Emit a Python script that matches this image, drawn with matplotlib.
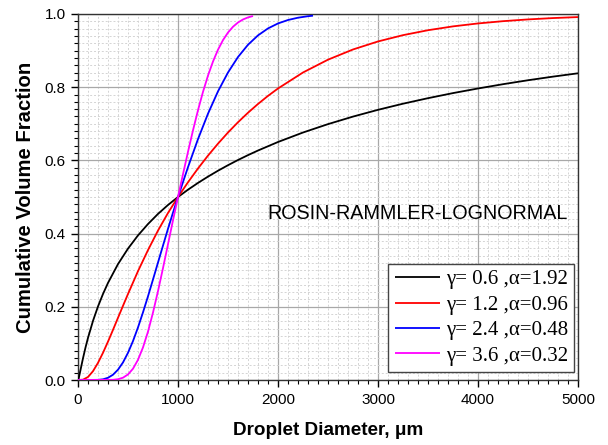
import matplotlib
matplotlib.use("Agg")
import matplotlib.pyplot as plt
from matplotlib.ticker import MultipleLocator

# values (diameter in um, cumulative volume fraction)
d_black = [0, 5, 10, 25, 50, 75, 100, 150, 200, 250, 300, 400, 500, 600, 700, 800, 900,
           1000, 1100, 1200, 1300, 1400, 1500, 1600, 1700, 1800, 2000, 2250, 2500, 2750,
           3000, 3250, 3500, 3750, 4000, 4250, 4500, 4750, 5000]
q_black = [0.0, 0.0029, 0.0082, 0.0274, 0.0594, 0.0887, 0.1152, 0.1616, 0.2010, 0.2351,
           0.2653, 0.3167, 0.3590, 0.3951, 0.4262, 0.4538, 0.4782,
           0.5, 0.5200, 0.5385, 0.5557, 0.5718, 0.5869, 0.6011, 0.6144, 0.6270, 0.6503,
           0.6762, 0.6991, 0.7197, 0.7382, 0.7549, 0.7700, 0.7839, 0.7965, 0.8082,
           0.8190, 0.8289, 0.8380]

d_red = [0, 50, 100, 150, 200, 250, 300, 350, 400, 450, 500, 600, 700, 800, 900,
         1000, 1100, 1200, 1300, 1400, 1500, 1600, 1700, 1800, 1900, 2000, 2250, 2500,
         2750, 3000, 3250, 3500, 3750, 4000, 4250, 4500, 4750, 5000]
q_red = [0.0, 0.0009, 0.0082, 0.0241, 0.0469, 0.0744, 0.1049, 0.1370, 0.1700, 0.2027,
         0.2351, 0.2974, 0.3550, 0.4083, 0.4564,
         0.5, 0.5403, 0.5780, 0.6131, 0.6458, 0.6762, 0.7043, 0.7302, 0.7542, 0.7763,
         0.7965, 0.8402, 0.8752, 0.9031, 0.9250, 0.9422, 0.9557, 0.9662, 0.9742,
         0.9804, 0.9852, 0.9889, 0.9916]

d_blue = [0, 200, 250, 300, 350, 400, 450, 500, 550, 600, 650, 700, 750, 800, 850, 900, 950,
          1000, 1100, 1200, 1300, 1400, 1500, 1600, 1700, 1800, 1900, 2000, 2100, 2200,
          2300, 2350]
q_blue = [0.0, 0.0004, 0.0019, 0.0061, 0.0144, 0.0282, 0.0480, 0.0744, 0.1064, 0.1437,
          0.1849, 0.2287, 0.2746, 0.3210, 0.3673, 0.4131, 0.4574,
          0.5, 0.5816, 0.6582, 0.7277, 0.7887, 0.8402, 0.8825, 0.9160, 0.9416, 0.9606,
          0.9742, 0.9836, 0.9899, 0.9940, 0.9954]

d_mag = [0, 350, 400, 450, 500, 550, 600, 650, 700, 750, 800, 850, 900, 950,
         1000, 1050, 1100, 1150, 1200, 1250, 1300, 1350, 1400, 1450, 1500, 1550, 1600,
         1650, 1700, 1750]
q_mag = [0.0, 0.0005, 0.0021, 0.0063, 0.0152, 0.0309, 0.0552, 0.0891, 0.1322, 0.1843,
         0.2429, 0.3057, 0.3711, 0.4364,
         0.5, 0.5623, 0.6235, 0.6822, 0.7372, 0.7873, 0.8318, 0.8702, 0.9025, 0.9287,
         0.9494, 0.9652, 0.9768, 0.9851, 0.9907, 0.9945]

labels = ["\u03b3= 0.6 ,\u03b1=1.92", "\u03b3= 1.2 ,\u03b1=0.96",
          "\u03b3= 2.4 ,\u03b1=0.48", "\u03b3= 3.6 ,\u03b1=0.32"]
colors = ["black", "red", "blue", "magenta"]
sans = ["Liberation Sans", "DejaVu Sans"]

fig = plt.figure(figsize=(6.08, 4.45), dpi=100)
ax = fig.add_axes([78 / 608, 1 - 380 / 445, 500 / 608, 366 / 445])

series = [(d_black, q_black), (d_red, q_red), (d_blue, q_blue), (d_mag, q_mag)]
for (d, q), c, lab in zip(series, colors, labels):
    ax.plot(d, q, color=c, lw=1.3, label=lab, zorder=3, solid_capstyle="butt")

ax.set_xlim(0, 5000)
ax.set_ylim(0, 1.0)
ax.xaxis.set_major_locator(MultipleLocator(1000))
ax.xaxis.set_minor_locator(MultipleLocator(100))
ax.yaxis.set_major_locator(MultipleLocator(0.2))
ax.yaxis.set_minor_locator(MultipleLocator(0.02))
ax.yaxis.set_major_formatter(plt.FuncFormatter(lambda v, p: f"{v:.1f}"))

ax.grid(which="major", color="#a8a8a8", lw=0.9, ls="-", zorder=1)
ax.grid(which="minor", color="#d4d4d4", lw=0.7, ls=(0, (2, 2)), zorder=0)
ax.set_axisbelow(True)

ax.tick_params(which="major", direction="out", length=5, width=1, labelsize=11,
               top=False, right=False, pad=4)
ax.tick_params(which="minor", direction="out", length=3, width=0.8, top=False, right=False)
for s in ax.spines.values():
    s.set_color("#333333")
    s.set_linewidth(1.0)

ax.set_xlabel("Droplet Diameter, \u03bcm", fontsize=13.6, fontweight="bold",
              family=sans, labelpad=11)
ax.set_ylabel("Cumulative Volume Fraction", fontsize=14.6, fontweight="bold",
              family=sans, labelpad=7)
for t in ax.get_xticklabels() + ax.get_yticklabels():
    t.set_family(sans)

ax.text(0.98, 0.455, "ROSIN-RAMMLER-LOGNORMAL", transform=ax.transAxes,
        ha="right", va="center", fontsize=14.2, family=sans)

leg = ax.legend(loc="lower right", bbox_to_anchor=(0.992, 0.022),
                prop={"family": ["Liberation Serif", "DejaVu Serif"], "size": 15},
                frameon=True, fancybox=False, framealpha=1, edgecolor="#444444",
                handlelength=2.2, handletextpad=0.25, labelspacing=0.28,
                borderpad=0.3, borderaxespad=0)
leg.get_frame().set_linewidth(1.0)
leg.set_zorder(5)

fig.savefig("out.png", dpi=100)
